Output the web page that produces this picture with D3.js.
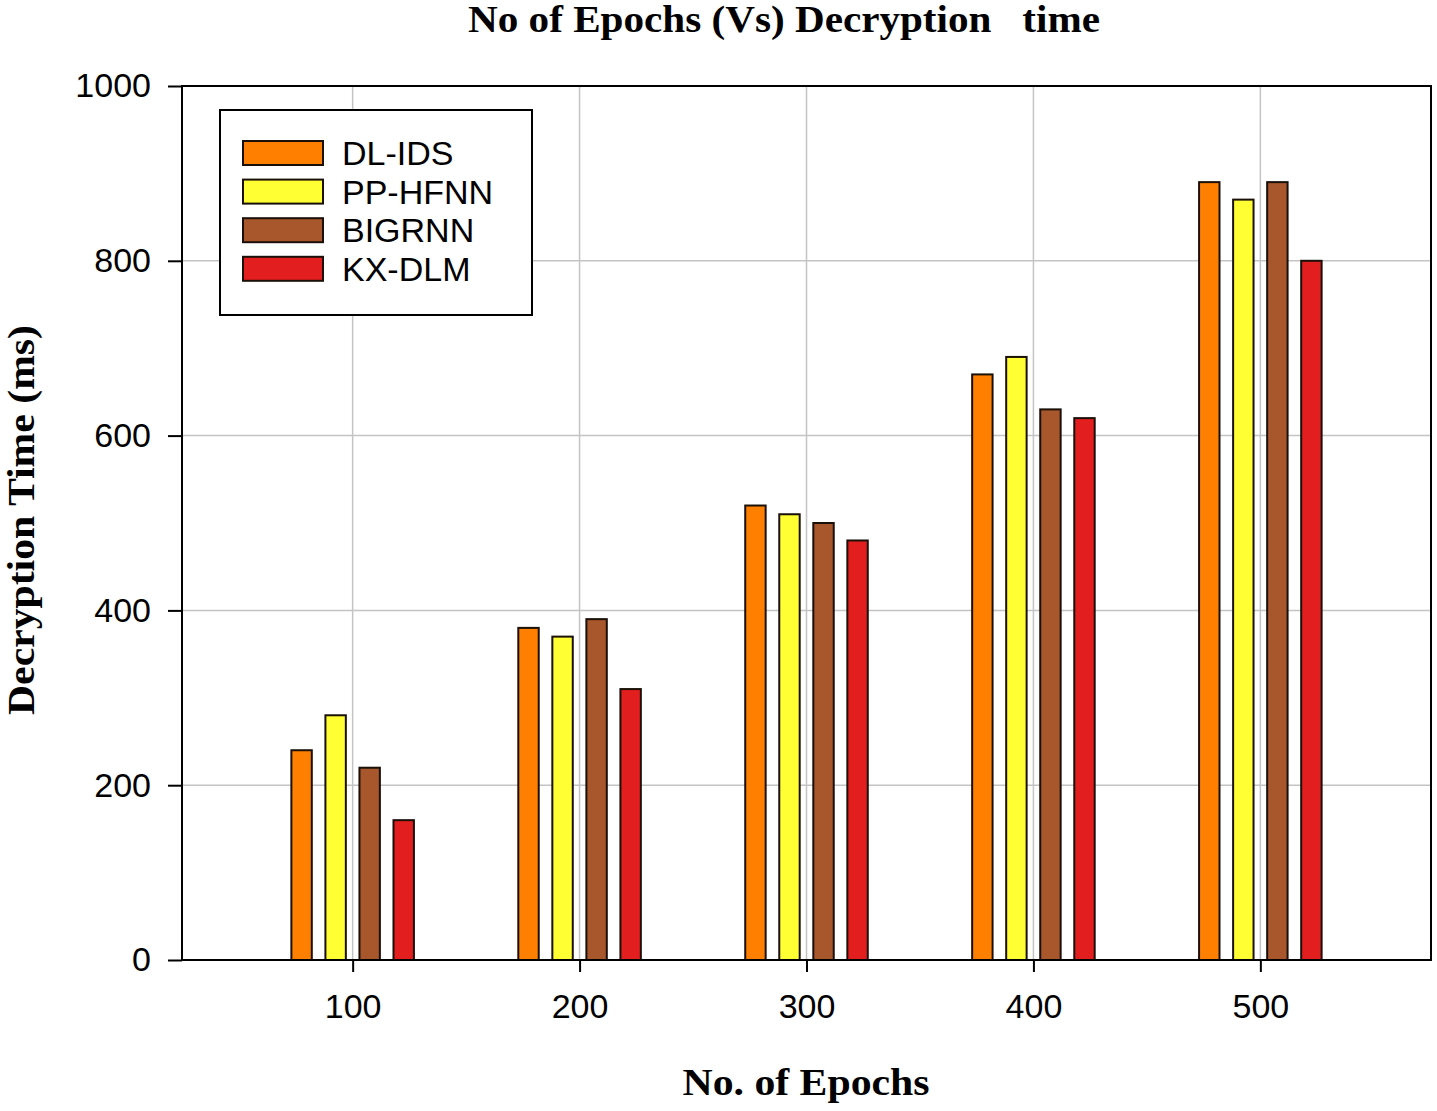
<!DOCTYPE html>
<html><head><meta charset="utf-8">
<script src="https://cdn.jsdelivr.net/npm/d3@7"></script>
<style>body{margin:0;background:#fff;}</style>
</head><body>
<svg id="chart" width="1437" height="1111"></svg>
<script>
const categories = [100, 200, 300, 400, 500];
const seriesNames = ["DL-IDS", "PP-HFNN", "BIGRNN", "KX-DLM"];
const dlIds   = [240, 380, 520, 670, 890];
const ppHfnn  = [280, 370, 510, 690, 870];
const bigrnn  = [220, 390, 500, 630, 890];
const kxDlm   = [160, 310, 480, 620, 800];
const yTicks  = [0, 200, 400, 600, 800, 1000];
const colors  = ["#FF8000", "#FFFF33", "#A8562B", "#E31E1E"];
const title = "No of Epochs (Vs) Decryption   time";
const xTitle = "No. of Epochs";
const yTitle = "Decryption Time (ms)";

const series = [dlIds, ppHfnn, bigrnn, kxDlm];

const svg = d3.select("#chart");
const L = 182, R = 1431, T = 86, B = 960;

const x = d3.scaleLinear().domain([24.8, 575.2]).range([L, R]);
const y = d3.scaleLinear().domain([0, 1000]).range([B, T]);

const pitch = 15, bw = 9;
const offsets = [-1.5, -0.5, 0.5, 1.5].map(k => k * pitch);

// grid
const grid = svg.append("g");
grid.selectAll("line.h").data(yTicks.filter(v => v > 0 && v < 1000)).enter().append("line")
  .attr("x1", L).attr("x2", R).attr("y1", d => y(d)).attr("y2", d => y(d))
  .attr("stroke", "#c4c4c4").attr("stroke-width", 1.5);
grid.selectAll("line.v").data(categories).enter().append("line")
  .attr("y1", T).attr("y2", B).attr("x1", d => x(d)).attr("x2", d => x(d))
  .attr("stroke", "#c4c4c4").attr("stroke-width", 1.5);

// bars
series.forEach((vals, si) => {
  svg.append("g").selectAll("rect").data(vals).enter().append("rect")
    .attr("x", (d, i) => x(categories[i] + offsets[si] - bw / 2))
    .attr("width", x(bw) - x(0))
    .attr("y", d => y(d))
    .attr("height", d => y(0) - y(d))
    .attr("fill", colors[si])
    .attr("stroke", "#1a1008").attr("stroke-width", 2);
});

// frame
svg.append("rect").attr("x", L).attr("y", T).attr("width", R - L).attr("height", B - T)
  .attr("fill", "none").attr("stroke", "#000").attr("stroke-width", 2);

// axes
const yAxis = d3.axisLeft(y).tickValues(yTicks).tickFormat(d3.format("d")).tickSize(14).tickPadding(17);
const gy = svg.append("g").attr("transform", `translate(${L},0)`).call(yAxis);
gy.select(".domain").remove();
gy.selectAll(".tick line").attr("stroke", "#000").attr("stroke-width", 2);
gy.selectAll(".tick text").attr("font-family", "Liberation Sans, Arial, sans-serif")
  .attr("font-size", 34).attr("fill", "#000");

const xAxis = d3.axisBottom(x).tickValues(categories).tickFormat(d3.format("d")).tickSize(12).tickPadding(22);
const gx = svg.append("g").attr("transform", `translate(0,${B})`).call(xAxis);
gx.select(".domain").remove();
gx.selectAll(".tick line").attr("stroke", "#000").attr("stroke-width", 2);
gx.selectAll(".tick text").attr("font-family", "Liberation Sans, Arial, sans-serif")
  .attr("font-size", 34).attr("fill", "#000");

// titles
svg.append("text").attr("x", 784).attr("y", 32).attr("text-anchor", "middle")
  .attr("font-family", "Liberation Serif, Times New Roman, serif").attr("font-weight", "bold")
  .attr("font-size", 37).attr("textLength", 632).attr("lengthAdjust", "spacingAndGlyphs")
  .style("white-space", "pre").attr("xml:space", "preserve").text(title);
svg.append("text").attr("x", 806).attr("y", 1095).attr("text-anchor", "middle")
  .attr("font-family", "Liberation Serif, Times New Roman, serif").attr("font-weight", "bold")
  .attr("font-size", 38).attr("textLength", 247).attr("lengthAdjust", "spacingAndGlyphs")
  .text(xTitle);
svg.append("text").attr("transform", "translate(34,520) rotate(-90)").attr("text-anchor", "middle")
  .attr("font-family", "Liberation Serif, Times New Roman, serif").attr("font-weight", "bold")
  .attr("font-size", 38).attr("textLength", 390).attr("lengthAdjust", "spacingAndGlyphs")
  .text(yTitle);

// legend
const lg = svg.append("g");
lg.append("rect").attr("x", 220).attr("y", 110).attr("width", 312).attr("height", 205)
  .attr("fill", "#fff").attr("stroke", "#000").attr("stroke-width", 2);
seriesNames.forEach((name, i) => {
  const yy = 141 + i * 38.6;
  lg.append("rect").attr("x", 243).attr("y", yy).attr("width", 80).attr("height", 24)
    .attr("fill", colors[i]).attr("stroke", "#1a1008").attr("stroke-width", 2);
  lg.append("text").attr("x", 342).attr("y", yy + 24)
    .attr("font-family", "Liberation Sans, Arial, sans-serif").attr("font-size", 34)
    .attr("fill", "#000").text(name);
});
</script>
</body></html>
